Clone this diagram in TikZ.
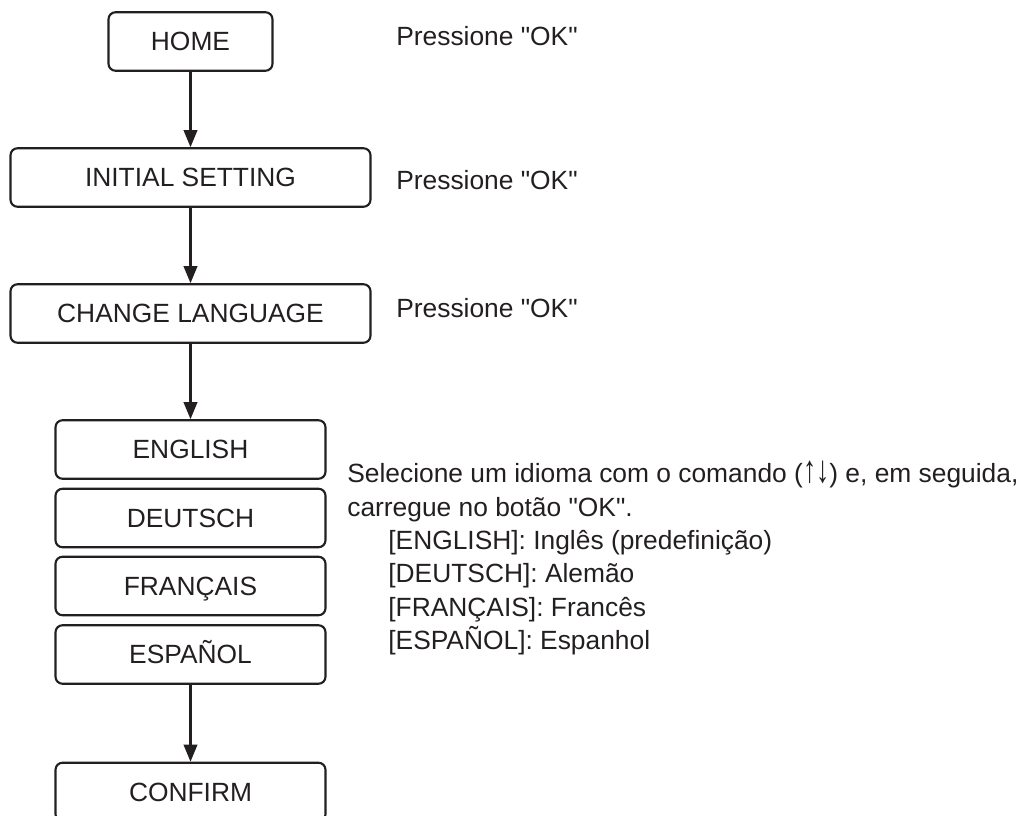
\documentclass[tikz,border=0pt]{standalone}
\usepackage{fontspec}
\setmainfont{Liberation Sans}
\usepackage{graphicx}
\usepackage{xcolor}
\definecolor{inkblack}{RGB}{35,31,32}
\usepackage{tikz}
\usetikzlibrary{arrows.meta, positioning}

\newcommand{\qt}{\textquotedbl}
\newcommand{\updown}{\scalebox{1}[1.45]{↑↓}}

\tikzset{
  menubox/.style={draw=inkblack, line width=1.2pt, rounded corners=4pt,
    minimum height=1.17cm, inner sep=0pt, text height=0.378cm, text depth=0pt,
    font=\fontsize{15}{19}\selectfont, text=inkblack},
  note/.style={anchor=base west, inner sep=0pt,
    font=\fontsize{15}{19}\selectfont, text=inkblack},
  flow/.style={-{Triangle[length=0.34cm, width=0.27cm]}, line width=1.2pt, draw=inkblack}
}

\begin{document}
\begin{tikzpicture}
  \useasboundingbox (0,0) rectangle (20.6,-16.32);

  % --- Menu path ---
  \node[menubox, minimum width=3.28cm] (home)    at (3.81,-0.83) {HOME};
  \node[menubox, minimum width=7.2cm]  (initial) at (3.81,-3.55) {INITIAL SETTING};
  \node[menubox, minimum width=7.2cm]  (change)  at (3.81,-6.27) {CHANGE LANGUAGE};

  % --- Language list ---
  \node[menubox, minimum width=5.4cm] (english)  at (3.81,-8.99)  {ENGLISH};
  \node[menubox, minimum width=5.4cm] (deutsch)  at (3.81,-10.36) {DEUTSCH};
  \node[menubox, minimum width=5.4cm] (francais) at (3.81,-11.72) {FRANÇAIS};
  \node[menubox, minimum width=5.4cm] (espanol)  at (3.81,-13.09) {ESPAÑOL};
  \node[menubox, minimum width=5.4cm] (confirm)  at (3.81,-15.84) {CONFIRM};

  % --- Arrows ---
  \draw[flow] (home) -- (initial);
  \draw[flow] (initial) -- (change);
  \draw[flow] (change) -- (english);
  \draw[flow] (espanol) -- (confirm);

  % --- Notes ---
  \node[note] (okhome)    at (7.92,-0.92) {Pressione \qt OK\qt};
  \node[note] (okinitial) at (7.92,-3.8)  {Pressione \qt OK\qt};
  \node[note] (okchange)  at (7.92,-6.36) {Pressione \qt OK\qt};

  \node[note] (select)  at (6.94,-9.66)  {Selecione um idioma com o comando (\updown) e, em seguida,};
  \node[note] (press)   at (6.94,-10.34) {carregue no botão \qt OK\qt.};
  \node[note] (optenglish)  at (7.76,-11.0)  {[ENGLISH]: Inglês (predefinição)};
  \node[note] (optdeutsch)  at (7.76,-11.66) {[DEUTSCH]: Alemão};
  \node[note] (optfrancais) at (7.76,-12.34) {[FRANÇAIS]: Francês};
  \node[note] (optespanol)  at (7.76,-13.0)  {[ESPAÑOL]: Espanhol};
\end{tikzpicture}
\end{document}
